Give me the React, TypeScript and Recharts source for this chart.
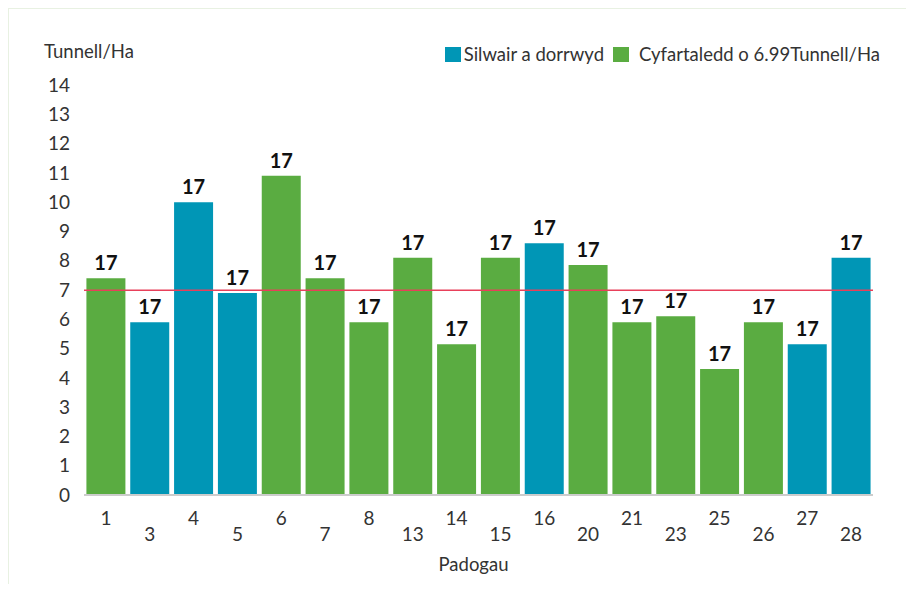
import { BarChart, Bar, XAxis, YAxis, ReferenceLine, Cell, LabelList } from "recharts";

const paddocks = ["1", "3", "4", "5", "6", "7", "8", "13", "14", "15", "16", "20", "21", "23", "25", "26", "27", "28"];
const yields = [7.4, 5.9, 10.0, 6.9, 10.9, 7.4, 5.9, 8.1, 5.15, 8.1, 8.6, 7.85, 5.9, 6.1, 4.3, 5.9, 5.15, 8.1];
const cutSilage = [false, true, true, true, false, false, false, false, false, false, true, false, false, false, false, false, true, true];
const barLabels = ["17", "17", "17", "17", "17", "17", "17", "17", "17", "17", "17", "17", "17", "17", "17", "17", "17", "17"];
const yTicks = [0, 1, 2, 3, 4, 5, 6, 7, 8, 9, 10, 11, 12, 13, 14];
const average = 6.99;

const BLUE = "#0096b6";
const GREEN = "#5aac41";
const FONT = "Lato, 'Open Sans', sans-serif";

const data = paddocks.map((p, i) => ({ paddock: p, value: yields[i], label: barLabels[i], cut: cutSilage[i] }));

function XTick(props: any) {
  const { x, y, payload, index } = props;
  return (
    <text x={x} y={y + (index % 2 ? 16 : 0)} dy="0.71em" textAnchor="middle" fontSize={19} fill="#333" fontFamily={FONT}>
      {payload.value}
    </text>
  );
}

function LegendBox() {
  return (
    <div
      style={{
        position: "absolute",
        top: 43,
        right: 34,
        display: "flex",
        alignItems: "center",
        fontFamily: FONT,
        fontSize: 18.5,
        color: "#333",
        whiteSpace: "nowrap",
      }}
    >
      <span style={{ width: 16, height: 15, background: BLUE, display: "inline-block", marginRight: 3 }} />
      <span style={{ marginRight: 9 }}>Silwair a dorrwyd</span>
      <span style={{ width: 16, height: 15, background: GREEN, display: "inline-block", marginRight: 10 }} />
      <span>Cyfartaledd o 6.99Tunnell/Ha</span>
    </div>
  );
}

export default function App() {
  return (
    <div style={{ position: "relative", width: 914, height: 592, margin: -8, background: "#e8f1e2" }}>
      <div style={{ position: "absolute", left: 9, top: 9, right: 0, bottom: 0, background: "#fff" }} />
      <div style={{ position: "absolute", left: 0, top: 0 }}>
        <BarChart
          width={914}
          height={592}
          data={data}
          margin={{ top: 85, right: 41, left: 0, bottom: 67 }}
          barCategoryGap="5.5%"
          style={{ fontFamily: FONT }}
        >
          <XAxis
            dataKey="paddock"
            interval={0}
            tickLine={false}
            tickSize={0}
            tickMargin={17}
            axisLine={{ stroke: "#cccccc", strokeWidth: 2 }}
            tick={<XTick />}
            height={30}
            label={({ viewBox }: any) => (
              <text x={viewBox.x + viewBox.width / 2 - 5} y={viewBox.y + 76} textAnchor="middle" fontSize={18.5} fill="#333" fontFamily={FONT}>
                Padogau
              </text>
            )}
          />
          <YAxis
            domain={[0, 14]}
            ticks={yTicks}
            interval={0}
            width={84}
            axisLine={false}
            tickLine={false}
            tickSize={0}
            tickMargin={14}
            tick={{ fontSize: 19, fill: "#333", fontFamily: FONT }}
            label={({ viewBox }: any) => (
              <text x={viewBox.x + 44} y={viewBox.y - 27} textAnchor="start" fontSize={18.5} fill="#333" fontFamily={FONT}>
                Tunnell/Ha
              </text>
            )}
          />
          <Bar dataKey="value" isAnimationActive={false}>
            {data.map((d, i) => (
              <Cell key={i} fill={d.cut ? BLUE : GREEN} />
            ))}
            <LabelList dataKey="label" position="top" offset={8} fontSize={20} fontWeight={700} fill="#111" fontFamily={FONT} />
          </Bar>
          <ReferenceLine y={average} stroke="#e8405a" strokeWidth={1.5} ifOverflow="extendDomain" />
        </BarChart>
      </div>
      <LegendBox />
    </div>
  );
}
